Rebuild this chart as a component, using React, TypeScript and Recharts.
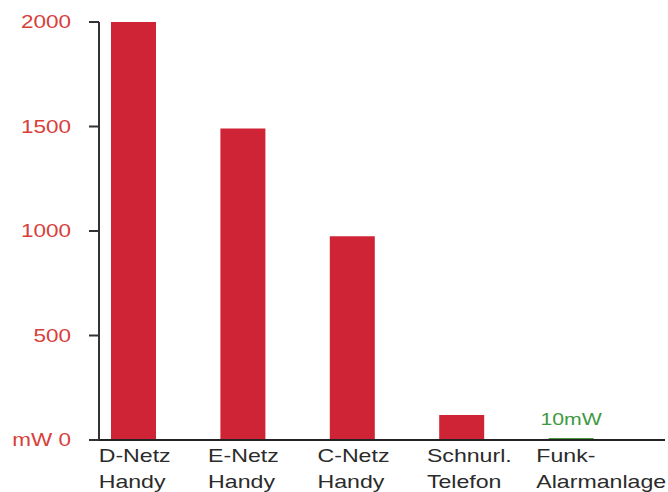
import React from 'react';
import { BarChart, Bar, XAxis, YAxis, Cell, LabelList } from 'recharts';

const catTop = ['D-Netz', 'E-Netz', 'C-Netz', 'Schnurl.', 'Funk-'];
const catBottom = ['Handy', 'Handy', 'Handy', 'Telefon', 'Alarmanlage'];
const powerMw = [2000, 1490, 975, 120, 10];
const barNotes = ['', '', '', '', '10mW'];
const barColors = ['#cf2436', '#cf2436', '#cf2436', '#cf2436', '#4c9a3f'];
const yTicks = [0, 500, 1000, 1500, 2000];
const yTickLabels = ['mW 0', '500', '1000', '1500', '2000'];

const data = catTop.map((name, i) => ({
  name,
  sub: catBottom[i],
  power: powerMw[i],
  note: barNotes[i],
}));

const FONT = '"Liberation Sans", Arial, sans-serif';
const STRETCH = 1.25;

const XTick = (props: any) => {
  const { x, y, payload } = props;
  const i = payload.index;
  return (
    <g transform={`translate(${x - 35},${y}) scale(${STRETCH},1)`}>
      <text x={0} y={14} fill="#2b2b2b" fontSize={18.5} fontFamily={FONT}>
        {catTop[i]}
      </text>
      <text x={0} y={40} fill="#2b2b2b" fontSize={18.5} fontFamily={FONT}>
        {catBottom[i]}
      </text>
    </g>
  );
};

const YTick = (props: any) => {
  const { y, payload } = props;
  const i = yTicks.indexOf(payload.value);
  return (
    <g transform={`translate(71,${y}) scale(${STRETCH},1)`}>
      <text x={0} y={0} dy="0.35em" textAnchor="end" fill="#d8403a" fontSize={18} fontFamily={FONT}>
        {yTickLabels[i]}
      </text>
    </g>
  );
};

const NoteLabel = (props: any) => {
  const { x, y, width, value } = props;
  if (!value) return null;
  const cx = x + width / 2;
  return (
    <g transform={`translate(${cx},${y - 13}) scale(${STRETCH},1)`}>
      <text x={0} y={0} textAnchor="middle" fill="#3f9a3f" fontSize={17} fontFamily={FONT}>
        {value}
      </text>
    </g>
  );
};

export default function App() {
  return (
    <div style={{ position: 'absolute', left: 0, top: 0, background: '#fff' }}>
      <BarChart
        width={668}
        height={492}
        data={data}
        margin={{ top: 22, right: 3, left: 0, bottom: 0 }}
      >
        <XAxis
          dataKey="name"
          height={52}
          padding={{ left: -20, right: 39 }}
          axisLine={{ stroke: '#222', strokeWidth: 2 }}
          tickLine={false}
          tick={<XTick />}
          interval={0}
        />
        <YAxis
          width={99}
          domain={[0, 2000]}
          ticks={yTicks}
          tickSize={10}
          axisLine={{ stroke: '#333', strokeWidth: 2 }}
          tickLine={{ stroke: '#333', strokeWidth: 2 }}
          tick={<YTick />}
        />
        <Bar dataKey="power" barSize={45} isAnimationActive={false}>
          {data.map((d, i) => (
            <Cell key={d.name} fill={barColors[i]} />
          ))}
          <LabelList dataKey="note" content={<NoteLabel />} />
        </Bar>
      </BarChart>
    </div>
  );
}
